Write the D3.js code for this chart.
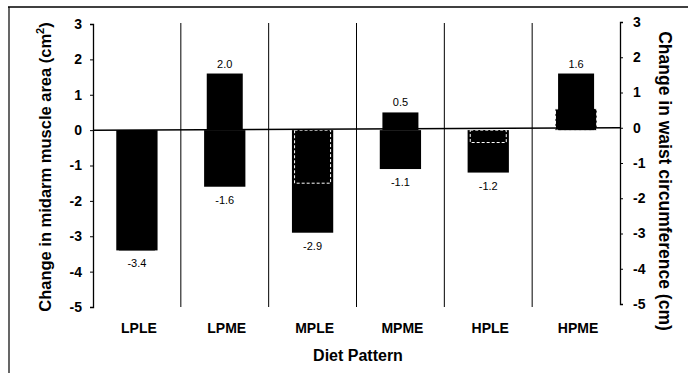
<!DOCTYPE html>
<html>
<head>
<meta charset="utf-8">
<script src="https://cdn.jsdelivr.net/npm/d3@7"></script>
<style>
  body { margin: 0; background: #fff; }
  svg { display: block; font-family: Arial, 'Liberation Sans', sans-serif; }
</style>
</head>
<body>
<script>
var categories = ['LPLE', 'LPME', 'MPLE', 'MPME', 'HPLE', 'HPME']
// wide bars (labelled below) and the narrower bars laid over them
var wideValues = [-3.4, -1.6, -2.9, -1.1, -1.2, 0.6]
var narrowValues = [-3.4, 1.6, -1.5, 0.5, -0.35, 1.6]
var wideLabels = ['-3.4', '-1.6', '-2.9', '-1.1', '-1.2', '']
var narrowLabels = ['', '2.0', '', '0.5', '', '1.6']
var yTicks = [3, 2, 1, 0, -1, -2, -3, -4, -5]

var W = 688, H = 373

var svg = d3.select('body').append('svg')
	.attr('width', W)
	.attr('height', H)

var x = d3.scaleBand().domain(categories).range([93, 620]).padding(0)
var yL = d3.scaleLinear().domain([-5, 3]).range([307, 24])
var yR = d3.scaleLinear().domain([-5, 3]).range([304, 22])
var bw = x.bandwidth()

function barY(d) { return yL(Math.max(0, d)) }
function barH(d) { return Math.abs(yL(d) - yL(0)) }
// the shorter of two same-sign bars shows a white dashed edge in the scan
function hidden(a, b) { return a * b > 0 && Math.abs(a) < Math.abs(b) }

// frame
svg.append('line').attr('x1', 8).attr('x2', W).attr('y1', 7).attr('y2', 7)
	.attr('stroke', '#000').attr('stroke-width', 1.5)
svg.append('line').attr('x1', 9).attr('x2', 9).attr('y1', 7).attr('y2', H)
	.attr('stroke', '#000').attr('stroke-width', 1.2)

// group separators
svg.append('g').selectAll('line')
	.data(categories.slice(1))
	.enter()
	.append('line')
	.attr('x1', function(d) { return x(d) })
	.attr('x2', function(d) { return x(d) })
	.attr('y1', yL(3) - 1)
	.attr('y2', yL(-5))
	.attr('stroke', '#000')
	.attr('stroke-width', 1)

// wide bars
var wideX = function(d, i) { return x(categories[i]) + bw / 2 - bw * 0.235 }
svg.append('g').selectAll('rect')
	.data(wideValues)
	.enter()
	.append('rect')
	.attr('x', wideX)
	.attr('width', bw * 0.47)
	.attr('y', barY)
	.attr('height', barH)
	.attr('fill', '#000')
	.attr('stroke', function(d, i) { return hidden(d, narrowValues[i]) ? '#fff' : 'none' })
	.attr('stroke-width', 1)
	.attr('stroke-dasharray', '3,2')

// narrow bars
var narrowX = function(d, i) { return x(categories[i]) + bw / 2 - bw * 0.205 }
svg.append('g').selectAll('rect')
	.data(narrowValues)
	.enter()
	.append('rect')
	.attr('x', narrowX)
	.attr('width', bw * 0.41)
	.attr('y', barY)
	.attr('height', barH)
	.attr('fill', '#000')
	.attr('stroke', function(d, i) { return hidden(d, wideValues[i]) ? '#fff' : 'none' })
	.attr('stroke-width', 1)
	.attr('stroke-dasharray', '3,2')

// zero line
svg.append('line')
	.attr('x1', 93).attr('x2', 620)
	.attr('y1', yL(0)).attr('y2', yR(0))
	.attr('stroke', '#000').attr('stroke-width', 1.5)

// value labels
svg.append('g').selectAll('text')
	.data(wideValues)
	.enter()
	.append('text')
	.attr('x', function(d, i) { return x(categories[i]) + bw / 2 })
	.attr('y', function(d) { return yL(d) + 17 })
	.attr('text-anchor', 'middle')
	.attr('font-size', 11)
	.text(function(d, i) { return wideLabels[i] })

svg.append('g').selectAll('text')
	.data(narrowValues)
	.enter()
	.append('text')
	.attr('x', function(d, i) { return x(categories[i]) + bw / 2 })
	.attr('y', function(d) { return yL(d) - 6 })
	.attr('text-anchor', 'middle')
	.attr('font-size', 11)
	.text(function(d, i) { return narrowLabels[i] })

// axes
var fmt = function(d) { return String(d) }
var leftAxis = svg.append('g')
	.attr('transform', 'translate(93,0)')
	.call(d3.axisLeft(yL).tickValues(yTicks).tickSize(3).tickPadding(8).tickFormat(fmt))
var rightAxis = svg.append('g')
	.attr('transform', 'translate(620,0)')
	.call(d3.axisRight(yR).tickValues(yTicks).tickSize(3).tickPadding(10).tickFormat(fmt))

;[leftAxis, rightAxis].forEach(function(a) {
	a.select('.domain').attr('stroke-width', 1.3)
	a.selectAll('text').attr('font-size', 14).attr('font-weight', 'bold')
		.attr('font-family', "Arial, 'Liberation Sans', sans-serif")
})

// category labels
svg.append('g').selectAll('text')
	.data(categories)
	.enter()
	.append('text')
	.attr('x', function(d) { return x(d) + bw / 2 + 2 })
	.attr('y', 333)
	.attr('text-anchor', 'middle')
	.attr('font-size', 14)
	.attr('font-weight', 'bold')
	.text(function(d) { return d })

// axis titles
svg.append('text')
	.attr('x', 358).attr('y', 361)
	.attr('text-anchor', 'middle')
	.attr('font-size', 16)
	.attr('font-weight', 'bold')
	.text('Diet Pattern')

var lt = svg.append('text')
	.attr('transform', 'translate(51,167) rotate(-90)')
	.attr('text-anchor', 'middle')
	.attr('font-size', 16.5)
	.attr('font-weight', 'bold')
lt.append('tspan').text('Change in midarm muscle area (cm')
lt.append('tspan').attr('dy', -7).attr('font-size', 11).text('2')
lt.append('tspan').attr('dy', 7).text(')')

svg.append('text')
	.attr('transform', 'translate(659,181) rotate(90)')
	.attr('text-anchor', 'middle')
	.attr('font-size', 17.5)
	.attr('font-weight', 'bold')
	.text('Change in waist circumference (cm)')
</script>
</body>
</html>
